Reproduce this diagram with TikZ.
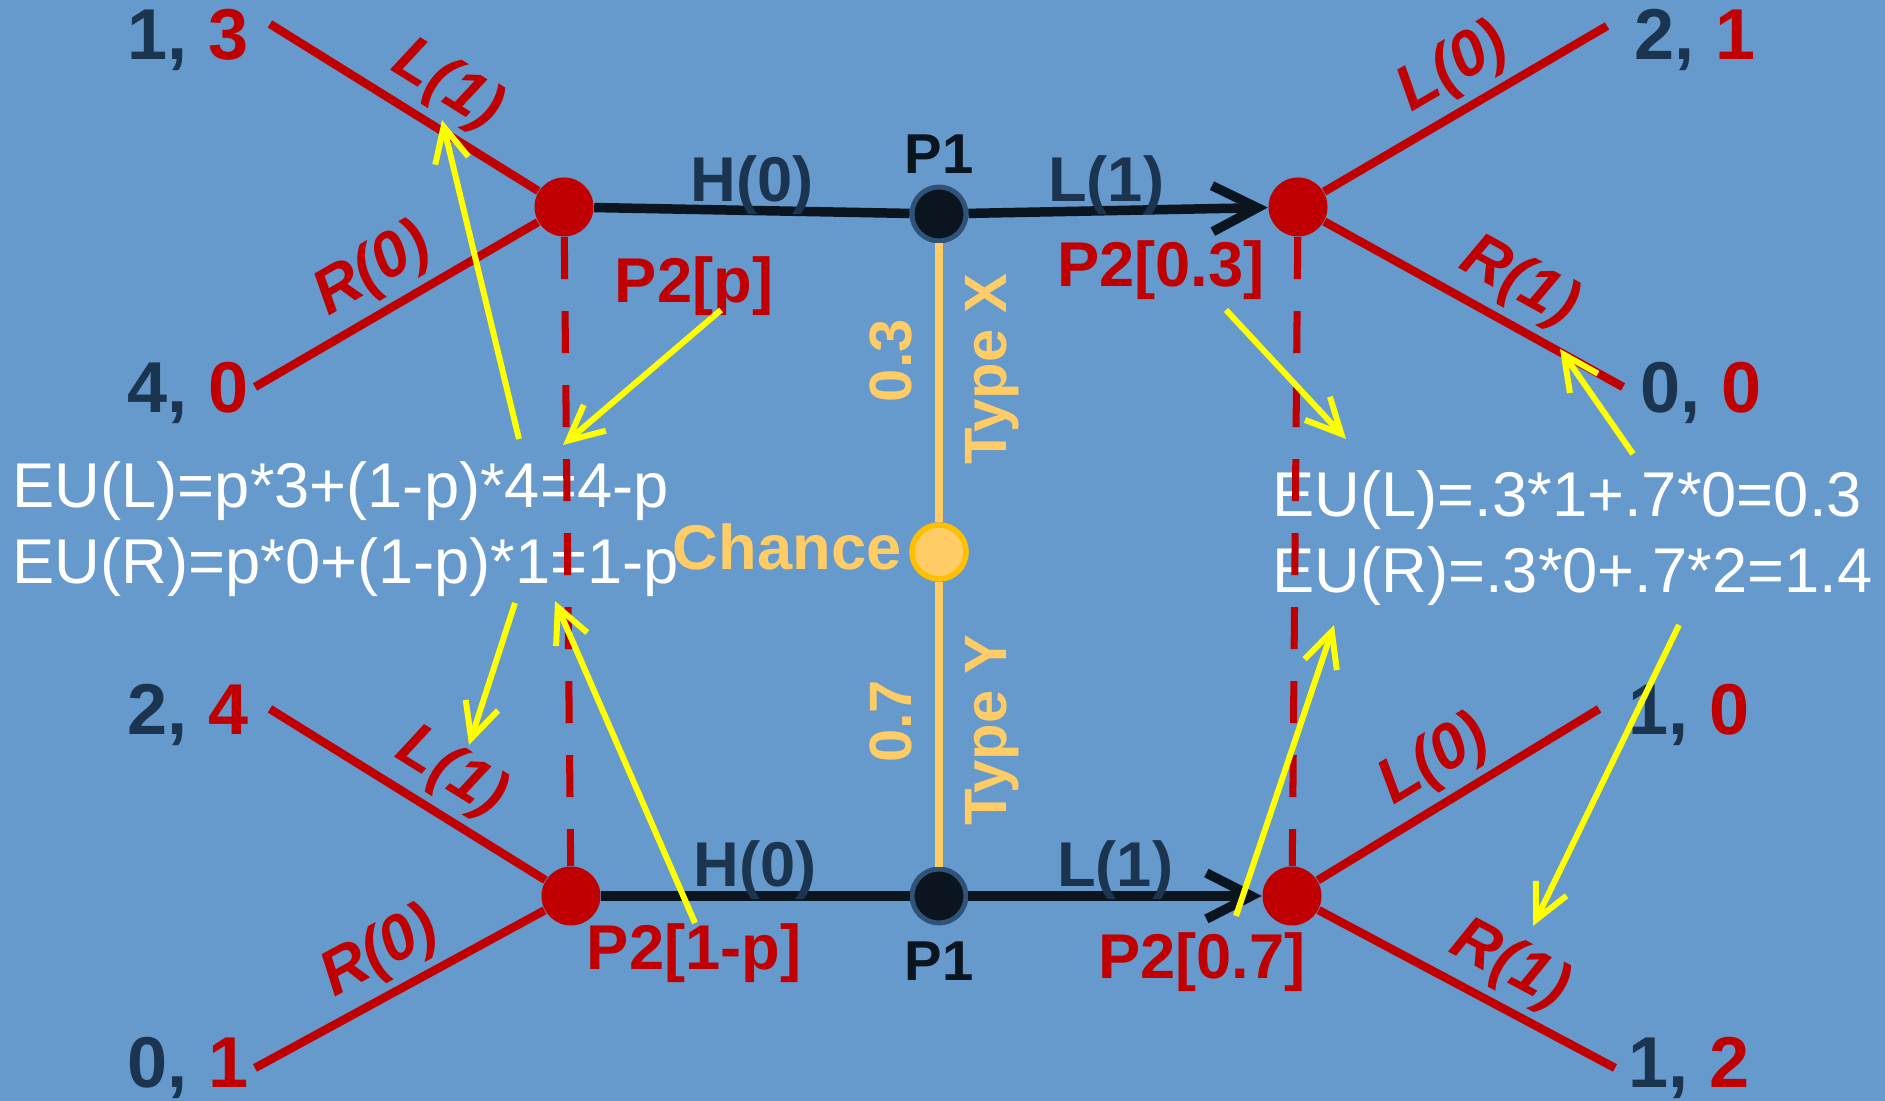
\documentclass[tikz,border=0pt]{standalone}
\usepackage{fontspec}
\setmainfont{Liberation Sans}
\usetikzlibrary{arrows.meta,positioning}
\definecolor{bgblue}{HTML}{6699CC}
\definecolor{darkred}{HTML}{C00000}
\definecolor{navy}{HTML}{1B3550}
\definecolor{nodeblack}{HTML}{0B1520}
\definecolor{nodeedge}{HTML}{2F5378}
\definecolor{chanceorange}{HTML}{FFCC66}
\definecolor{chanceedge}{HTML}{FFC000}
\definecolor{hintyellow}{HTML}{FFFF00}

\begin{document}
\begin{tikzpicture}[
  p2node/.style={circle, fill=darkred, inner sep=0pt, minimum size=5.9mm},
  p1node/.style={circle, fill=nodeblack, draw=nodeedge, line width=1.4pt, inner sep=0pt, minimum size=5.4mm},
  chancenode/.style={circle, fill=chanceorange, draw=chanceedge, line width=1.6pt, inner sep=0pt, minimum size=5.4mm},
  branch/.style={darkred, line width=2.4pt},
  infoset/.style={darkred, line width=2pt, dash pattern=on 4.2mm off 3.2mm},
  move/.style={nodeblack, line width=2.7pt},
  natmove/.style={chanceorange, line width=2.2pt},
  hint/.style={hintyellow, line width=1.7pt, -{Straight Barb[length=3.5mm, width=3.4mm]}},
  payoff/.style={font=\fontsize{20.5}{24}\selectfont\bfseries, inner sep=0pt},
  act/.style={font=\fontsize{18}{21}\selectfont\bfseries\itshape, text=darkred, inner sep=2pt},
  hact/.style={font=\fontsize{18}{21}\selectfont\bfseries, text=navy, inner sep=0pt, yshift=-2.4pt},
  who/.style={font=\fontsize{18}{21}\selectfont\bfseries, text=darkred, inner sep=0pt},
  pone/.style={font=\fontsize{16}{19}\selectfont\bfseries, text=nodeblack, inner sep=1pt},
  prob/.style={font=\fontsize{17}{20}\selectfont\bfseries, text=chanceorange, inner sep=6.5pt},
  eu/.style={font=\fontsize{18}{21.5}\selectfont, text=white, align=left, anchor=west, inner sep=0pt}
]
\fill[bgblue] (0,0) rectangle (18.85,11.01);
\useasboundingbox (0,0) rectangle (18.85,11.01);

\node[eu] (euleft) at (0.12,5.72) {EU(L)=p*3+(1-p)*4=4-p\\EU(R)=p*0+(1-p)*1=1-p};
\node[eu] (euright) at (12.72,5.63) {EU(L)=.3*1+.7*0=0.3\\EU(R)=.3*0+.7*2=1.4};

\node[p2node] (tl) at (5.64,8.94) {};
\node[p1node, label={[pone, label distance=2pt]above:P1}] (tp1) at (9.39,8.87) {};
\node[p2node] (tr) at (12.98,8.94) {};
\node[chancenode] (ch) at (9.39,5.49) {};
\node[p2node] (bl) at (5.71,2.05) {};
\node[p1node, label={[pone, label distance=3.5pt]below:P1}] (bp1) at (9.39,2.05) {};
\node[p2node] (br) at (12.92,2.05) {};

\node[prob, font=\fontsize{18}{21}\selectfont\bfseries, inner sep=2pt, left=0mm of ch, yshift=1.5pt] (chlab) {Chance};
\node[who] (wtl) at (6.94,8.15) {P2[p]};
\node[who] (wtr) at (11.61,8.31) {P2[0.3]};
\node[who] (wbl) at (6.94,1.48) {P2[1-p]};
\node[who] (wbr) at (12.02,1.39) {P2[0.7]};

\coordinate (tla) at (2.70,10.77);
\coordinate (tlb) at (2.55,7.14);
\coordinate (tra) at (16.07,10.75);
\coordinate (trb) at (16.23,7.14);
\coordinate (bla) at (2.70,3.92);
\coordinate (blb) at (2.55,0.33);
\coordinate (bra) at (15.99,3.92);
\coordinate (brb) at (16.15,0.33);

\node[payoff] (ptla) at (1.88,10.61) {\textcolor{navy}{1,} \textcolor{darkred}{3}};
\node[payoff] (ptlb) at (1.88,7.08) {\textcolor{navy}{4,} \textcolor{darkred}{0}};
\node[payoff] (ptra) at (16.95,10.61) {\textcolor{navy}{2,} \textcolor{darkred}{1}};
\node[payoff] (ptrb) at (17.01,7.08) {\textcolor{navy}{0,} \textcolor{darkred}{0}};
\node[payoff] (pbla) at (1.88,3.86) {\textcolor{navy}{2,} \textcolor{darkred}{4}};
\node[payoff] (pblb) at (1.88,0.33) {\textcolor{navy}{0,} \textcolor{darkred}{1}};
\node[payoff] (pbra) at (16.89,3.86) {\textcolor{navy}{1,} \textcolor{darkred}{0}};
\node[payoff] (pbrb) at (16.89,0.33) {\textcolor{navy}{1,} \textcolor{darkred}{2}};

\draw[branch] (tla) -- node[act, sloped, above, pos=0.58] {L(1)} (tl);
\draw[branch] (tlb) -- node[act, sloped, above, pos=0.49] {R(0)} (tl);
\draw[branch] (tr) -- node[act, sloped, above, pos=0.53] {L(0)} (tra);
\draw[branch] (tr) -- node[act, sloped, above, pos=0.585] {R(1)} (trb);
\draw[branch] (bla) -- node[act, sloped, above, pos=0.58] {L(1)} (bl);
\draw[branch] (blb) -- node[act, sloped, above, pos=0.5] {R(0)} (bl);
\draw[branch] (br) -- node[act, sloped, above, pos=0.49] {L(0)} (bra);
\draw[branch] (br) -- node[act, sloped, above, pos=0.58] {R(1)} (brb);

\draw[move] (tl) -- node[hact, above] {H(0)} (tp1);
\draw[move, -{Straight Barb[length=4.5mm, width=4.6mm]}] (tp1) -- node[hact, above, pos=0.46] {L(1)} (tr);
\draw[move] (bl) -- node[hact, above] {H(0)} (bp1);
\draw[move, -{Straight Barb[length=4.5mm, width=4.6mm]}] (bp1) -- node[hact, above] {L(1)} (br);

\draw[natmove] (ch) -- node[prob, rotate=90, anchor=south, pos=0.58] {0.3} node[prob, rotate=90, anchor=north, pos=0.55] {Type X} (tp1);
\draw[natmove] (bp1) -- node[prob, rotate=90, anchor=south, pos=0.51] {0.7} node[prob, rotate=90, anchor=north, pos=0.48] {Type Y} (ch);

\draw[infoset] (tl) -- (bl);
\draw[infoset] (tr) -- (br);

\coordinate (h1s) at (5.19,6.62);
\coordinate (h1e) at (4.42,9.81);
\coordinate (h2s) at (7.21,7.91);
\coordinate (h2e) at (5.63,6.56);
\coordinate (h3s) at (5.15,4.98);
\coordinate (h3e) at (4.69,3.56);
\coordinate (h4s) at (6.95,1.78);
\coordinate (h4e) at (5.55,5.00);
\coordinate (h5s) at (12.26,7.91);
\coordinate (h5e) at (13.46,6.62);
\coordinate (h6s) at (16.33,6.47);
\coordinate (h6e) at (15.60,7.52);
\coordinate (h7s) at (12.36,1.85);
\coordinate (h7e) at (13.34,4.76);
\coordinate (h8s) at (16.79,4.76);
\coordinate (h8e) at (15.33,1.75);
\foreach \i in {1,...,8}
  \draw[hint] (h\i s) -- (h\i e);
\end{tikzpicture}
\end{document}
